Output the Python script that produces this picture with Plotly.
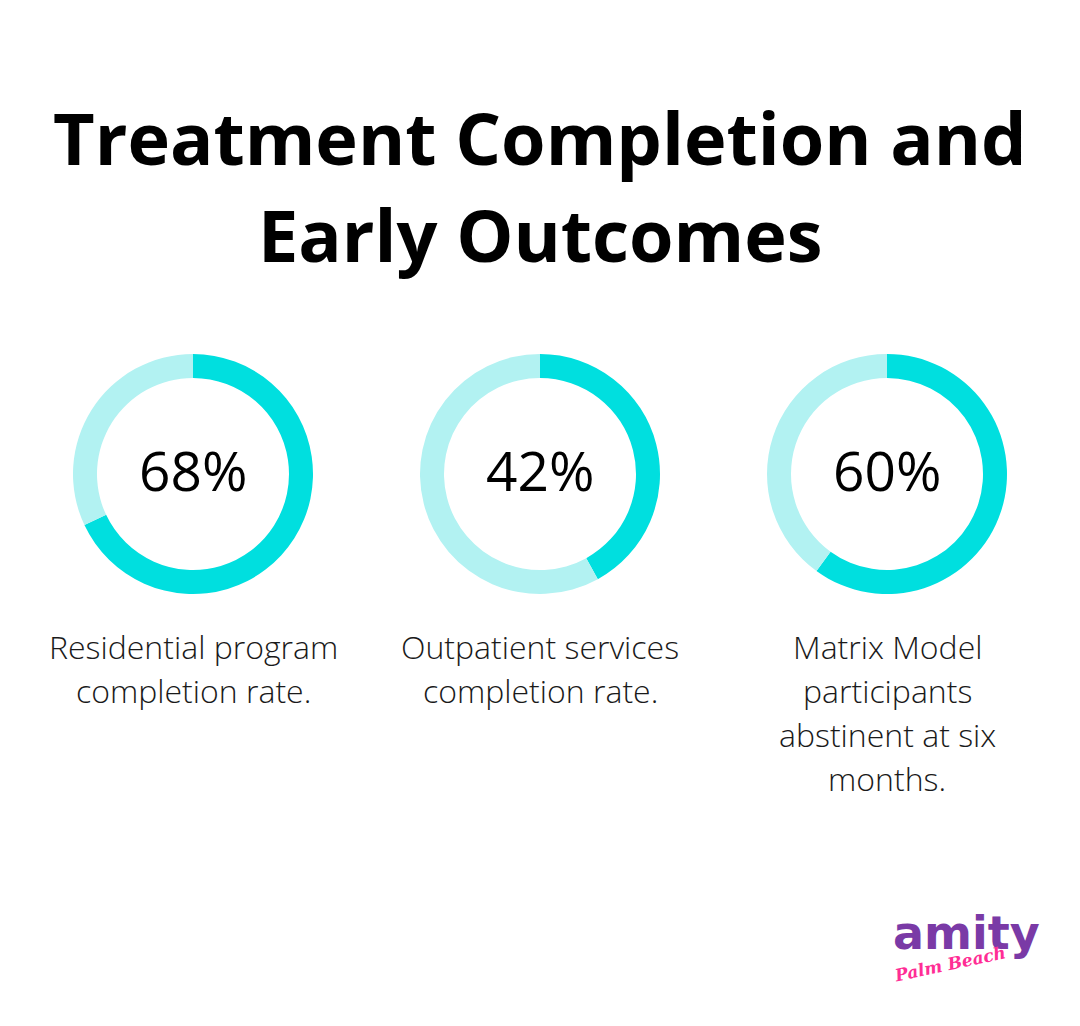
import plotly.graph_objects as go

# ---- data ----
title_lines = ["Treatment Completion and", "Early Outcomes"]
metrics = ["Residential program completion rate.",
           "Outpatient services completion rate.",
           "Matrix Model participants abstinent at six months."]
values = [68, 42, 60]
label_lines = [["Residential program", "completion rate."],
               ["Outpatient services", "completion rate."],
               ["Matrix Model", "participants", "abstinent at six", "months."]]

MAIN = "#00DFDF"
LIGHT = "#B2F2F2"
W, H = 1080, 1026

centers_x = [193, 540, 887]
center_y = 474
R = 120

fig = go.Figure()

def px_x(x):
    return x / W

def px_y(y):
    return 1 - y / H

for i, (cx, v) in enumerate(zip(centers_x, values)):
    fig.add_trace(go.Pie(
        values=[v, 100 - v],
        labels=["value", "rest"],
        hole=0.8,
        sort=False,
        direction="clockwise",
        rotation=0,
        marker=dict(colors=[MAIN, LIGHT], line=dict(width=0)),
        textinfo="none",
        hoverinfo="skip",
        showlegend=False,
        domain=dict(x=[px_x(cx - R), px_x(cx + R)],
                    y=[px_y(center_y + R), px_y(center_y - R)]),
    ))
    fig.add_annotation(
        x=px_x(cx), y=px_y(center_y - 4), xref="paper", yref="paper",
        text=f"{v}%", showarrow=False, xanchor="center", yanchor="middle",
        font=dict(family="Open Sans", size=55, color="#000000"),
    )
    for j, line in enumerate(label_lines[i]):
        fig.add_annotation(
            x=px_x(cx), y=px_y(646 + 44 * j), xref="paper", yref="paper",
            text=line, showarrow=False, xanchor="center", yanchor="middle",
            font=dict(family="Open Sans", size=32, color="#1a1a1a", weight=300),
        )

for j, line in enumerate(title_lines):
    fig.add_annotation(
        x=0.5, y=px_y(137 + 97 * j), xref="paper", yref="paper",
        text=f"<b>{line}</b>", showarrow=False, xanchor="center", yanchor="middle",
        font=dict(family="Open Sans", size=72, color="#000000"),
    )

# ---- logo (approximation) ----
fig.add_annotation(x=px_x(1042), y=px_y(933), xref="paper", yref="paper",
                   text="<b>amity</b>", showarrow=False, xanchor="right", yanchor="middle",
                   font=dict(family="DejaVu Sans", size=46, color="#7a3aa6"))
fig.add_annotation(x=px_x(1010), y=px_y(964), xref="paper", yref="paper",
                   text="<b><i>Palm Beach</i></b>", showarrow=False, textangle=-12,
                   xanchor="right", yanchor="middle",
                   font=dict(family="DejaVu Serif", size=17, color="#ff2d95"))

fig.update_layout(
    width=W, height=H,
    margin=dict(l=0, r=0, t=0, b=0),
    paper_bgcolor="#ffffff", plot_bgcolor="#ffffff",
    showlegend=False,
)

fig.write_html("out.html", config={"displayModeBar": False},
               post_script="document.body.style.margin='0';")
